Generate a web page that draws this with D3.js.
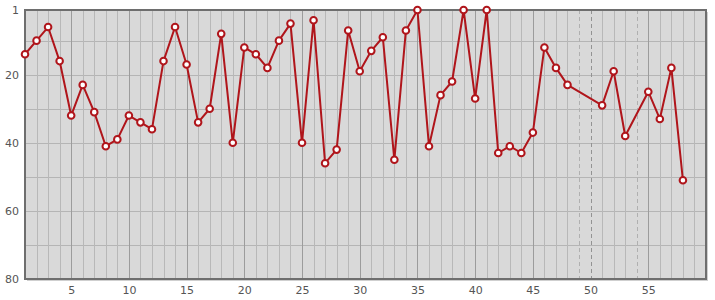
<!DOCTYPE html>
<html>
<head>
<meta charset="utf-8">
<script src="https://cdn.jsdelivr.net/npm/d3@7"></script>
<style>
  body { margin: 0; background: #fff; }
  svg { display: block; font-family: "DejaVu Sans", Verdana, sans-serif; }
</style>
</head>
<body>
<svg id="chart" width="715" height="300"></svg>
<script>
// positions (x) and ranks (y); gaps at 49, 50, 54
const xs = [1, 2, 3, 4, 5, 6, 7, 8, 9, 10, 11, 12, 13, 14, 15, 16, 17, 18, 19, 20,
  21, 22, 23, 24, 25, 26, 27, 28, 29, 30, 31, 32, 33, 34, 35, 36, 37, 38, 39, 40,
  41, 42, 43, 44, 45, 46, 47, 48, 51, 52, 53, 55, 56, 57, 58];
const ranks = [14, 10, 6, 16, 32, 23, 31, 41, 39, 32, 34, 36, 16, 6, 17, 34, 30, 8, 40, 12,
  14, 18, 10, 5, 40, 4, 46, 42, 7, 19, 13, 9, 45, 7, 1, 41, 26, 22, 1, 27,
  1, 43, 41, 43, 37, 12, 18, 23, 29, 19, 38, 25, 33, 18, 51];
const xTicks = [5, 10, 15, 20, 25, 30, 35, 40, 45, 50, 55];
const yTicks = [1, 20, 40, 60, 80];
const yGrid = [10, 20, 30, 40, 50, 60, 70];

const svg = d3.select('#chart');
const pL = 25, pR = 706, pT = 10, pB = 279;

const x = d3.scaleLinear().domain([1, 60]).range([pL, pR]);
const y = d3.scaleLinear().domain([1, 80]).range([pT, pB]);

// shadow + background
svg.append('rect').attr('x', pL + 2).attr('y', pT + 2)
  .attr('width', pR - pL).attr('height', pB - pT).attr('fill', '#cfcfcf');
svg.append('rect').attr('x', pL).attr('y', pT)
  .attr('width', pR - pL).attr('height', pB - pT).attr('fill', '#d9d9d9');

// horizontal grid
svg.append('g').selectAll('line').data(yGrid).enter().append('line')
  .attr('x1', pL).attr('x2', pR)
  .attr('y1', d => Math.round(y(d)) + 0.5).attr('y2', d => Math.round(y(d)) + 0.5)
  .attr('stroke', '#b5b5b5').attr('stroke-width', 1);

// vertical grid, dashed where a position has no data
const lo = d3.min(xs), hi = d3.max(xs);
const isGap = d => d > lo && d < hi && !xs.includes(d);
const vGrid = d3.range(2, 60);
svg.append('g').selectAll('line').data(vGrid).enter().append('line')
  .attr('x1', d => Math.round(x(d)) + 0.5).attr('x2', d => Math.round(x(d)) + 0.5)
  .attr('y1', pT).attr('y2', pB)
  .attr('stroke', d => {
    if (isGap(d)) return d % 5 === 0 ? '#939393' : '#b0b0b0';
    return d % 5 === 0 ? '#9c9c9c' : '#b8b8b8';
  })
  .attr('stroke-dasharray', d => isGap(d) ? '4,3' : null);

// frame
svg.append('rect').attr('x', pL).attr('y', pT)
  .attr('width', pR - pL).attr('height', pB - pT)
  .attr('fill', 'none').attr('stroke', '#6e6e6e').attr('stroke-width', 2);

// axes labels
const xAxis = d3.axisBottom(x).tickValues(xTicks).tickSize(0).tickPadding(6);
const gx = svg.append('g').attr('transform', `translate(0,${pB + 1})`).call(xAxis);
gx.select('.domain').remove();
gx.selectAll('text').attr('fill', '#555').attr('font-size', 11)
  .attr('font-family', '"DejaVu Sans", Verdana, sans-serif');

const yAxis = d3.axisLeft(y).tickValues(yTicks).tickSize(0).tickPadding(6);
const gy = svg.append('g').attr('transform', `translate(${pL},0)`).call(yAxis);
gy.select('.domain').remove();
gy.selectAll('text').attr('fill', '#555').attr('font-size', 11)
  .attr('font-family', '"DejaVu Sans", Verdana, sans-serif');

// line + markers
const pts = xs.map((d, i) => [d, ranks[i]]);
const line = d3.line().x(d => x(d[0])).y(d => y(d[1]));
svg.append('path').datum(pts).attr('d', line)
  .attr('fill', 'none').attr('stroke', '#b0151b').attr('stroke-width', 2)
  .attr('stroke-linejoin', 'round');

svg.append('g').selectAll('circle').data(pts).enter().append('circle')
  .attr('cx', d => x(d[0])).attr('cy', d => y(d[1])).attr('r', 3.3)
  .attr('fill', '#fff').attr('stroke', '#b0151b').attr('stroke-width', 2);
</script>
</body>
</html>
